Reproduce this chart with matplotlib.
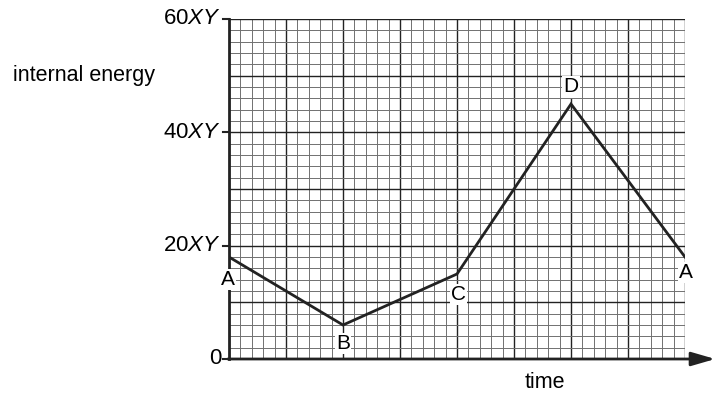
import numpy as np
import matplotlib
matplotlib.use("Agg")
import matplotlib.pyplot as plt

plt.rcParams["font.family"] = ["Liberation Sans", "DejaVu Sans"]
plt.rcParams["mathtext.fontset"] = "custom"
plt.rcParams["mathtext.rm"] = "Liberation Sans"
plt.rcParams["mathtext.it"] = "Liberation Sans:italic"

# data (time in major grid units, energy in XY)
point_names = ["A", "B", "C", "D", "A"]
time_vals   = [0, 2, 4, 6, 8]
energy_vals = [18, 6, 15, 45, 18]
y_ticks     = [0, 20, 40, 60]
y_tick_text = ["0", r"20$\mathit{XY}$", r"40$\mathit{XY}$", r"60$\mathit{XY}$"]

W, H, DPI = 715, 405, 100
fig = plt.figure(figsize=(W / DPI, H / DPI), dpi=DPI)
x0, x1, y0, y1 = 229, 685, 359, 19          # pixel corners of the grid
ax = fig.add_axes([x0 / W, (H - y0) / H, (x1 - x0) / W, (y0 - y1) / H])
ax.set_xlim(0, 8)
ax.set_ylim(0, 60)
ax.axis("off")

# graph paper
for gx in np.arange(0, 8.01, 0.2):
    major = abs(gx - round(gx)) < 1e-6
    ax.plot([gx, gx], [0, 60], color="#222222" if major else "#707070",
            lw=1.0 if major else 0.7, zorder=1)
for gy in np.arange(0, 60.01, 2):
    major = abs(gy / 10 - round(gy / 10)) < 1e-6
    ax.plot([0, 8], [gy, gy], color="#222222" if major else "#707070",
            lw=1.0 if major else 0.7, zorder=1)

# axes
ax.plot([0, 0], [0, 60], color="#222222", lw=2.0, zorder=3, clip_on=False)
ax.annotate("", xy=(8.53, 0), xytext=(-0.02, 0),
            arrowprops=dict(arrowstyle="-|>,head_length=1.45,head_width=0.42",
                            mutation_scale=10, color="#222222", lw=2.0,
                            shrinkA=0, shrinkB=0),
            annotation_clip=False, zorder=3)
for yt, lab in zip(y_ticks, y_tick_text):
    ax.plot([-0.1, 0], [yt, yt], color="#222222", lw=1.5, clip_on=False, zorder=3)
    ax.text(-0.14, yt, lab, ha="right", va="center", fontsize=16)

# the cycle
ax.plot(time_vals, energy_vals, color="#222222", lw=2.0, zorder=4,
        solid_joinstyle="miter")

label_offsets = [(-0.02, -3.9), (0, -3.2), (0.03, -3.6), (0, 3.0), (0.02, -2.7)]
for name, t, e, (dx, dy) in zip(point_names, time_vals, energy_vals, label_offsets):
    ax.text(t + dx, e + dy, name, ha="center", va="center", fontsize=15,
            zorder=5, bbox=dict(facecolor="white", edgecolor="none", pad=0.8))

fig.text(13 / W, 1 - 75 / H, "internal energy", ha="left", va="center", fontsize=15.5)
fig.text(545 / W, 1 - 382 / H, "time", ha="center", va="center", fontsize=15.5)

fig.savefig("out.png", dpi=DPI)
